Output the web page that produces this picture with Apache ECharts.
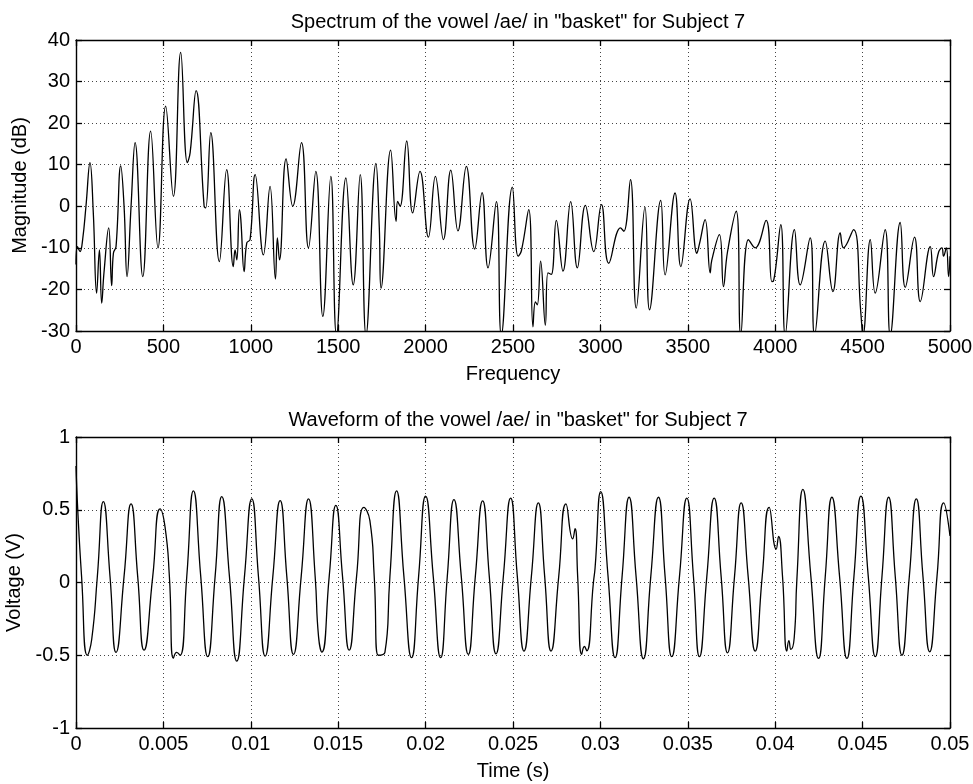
<!DOCTYPE html>
<html>
<head>
<meta charset="utf-8">
<script src="https://cdn.jsdelivr.net/npm/echarts@6/dist/echarts.min.js"></script>
<style>
html,body{margin:0;padding:0;background:#fff;}
#chart{width:973px;height:784px;}
</style>
</head>
<body>
<div id="chart"></div>
<script>
// ---- Spectrum (top panel) ----
const specTitle = 'Spectrum of the vowel /ae/ in "basket" for Subject 7';
const specFreq = [0, 8, 23, 38, 57, 80, 99, 118, 134, 147,
  160, 187, 204, 214, 229, 256, 275, 292, 315, 338,
  382, 427, 469, 513, 557, 599, 637, 653, 687, 733,
  742, 771, 820, 862, 900, 910, 920, 935, 943, 962,
  977, 996, 1025, 1072, 1110, 1141, 1152, 1164, 1202, 1240,
  1290, 1330, 1372, 1412, 1458, 1490, 1544, 1586, 1626, 1659,
  1716, 1735, 1745, 1800, 1831, 1840, 1854, 1892, 1926, 1968,
  2016, 2056, 2102, 2144, 2185, 2233, 2281, 2323, 2357, 2405,
  2433, 2496, 2529, 2548, 2590, 2614, 2628, 2639, 2658, 2685,
  2700, 2719, 2748, 2786, 2830, 2868, 2914, 2962, 3006, 3048,
  3115, 3134, 3172, 3205, 3255, 3281, 3345, 3370, 3427, 3460,
  3513, 3552, 3567, 3599, 3628, 3637, 3681, 3704, 3727, 3777,
  3803, 3847, 3885, 3948, 3981, 3990, 4032, 4057, 4110, 4143,
  4200, 4225, 4286, 4330, 4372, 4391, 4448, 4490, 4502, 4544,
  4572, 4629, 4658, 4715, 4744, 4797, 4830, 4887, 4906, 4935,
  4954, 4963, 4979, 4992, 5000];
const specDb = [-14, -9.7, -10.9, -8, 0, 10.5, -1.6, -20.9, -10.5, -23.3,
  -16, -5.2, -19.1, -11.3, -9.7, 9.7, 0, -16.9, 0, 15.3,
  -16.9, 18.1, -10, 24.1, 2.4, 37, 10.5, 12.9, 27.8, 0,
  -0.4, 17.7, -13.3, 8.8, -14.5, -10.5, -12.9, -0.8, -3.2, -15.7,
  -8.8, -8, 7.6, -11.7, 4.8, -17.5, -7.6, -12.9, 11.4, 0,
  15.3, -10, 8.4, -26.5, 7.2, -31, 6.8, -18.9, 7.6, -31,
  10.3, -5, -19.7, 13.5, -3.6, 1.2, 0, 15.7, -1.6, 8.4,
  -7.4, 7.2, -8, 8.7, -5.9, 9.6, -10.3, 3.3, -14.8, 1.1,
  -31, 4.6, -12, -10.7, -0.8, -29, -23, -23.7, -13.2, -28.6,
  -16, -16.4, -3.4, -15.6, 1.1, -14.8, 0.2, -10.9, 0.4, -13.7,
  -5.2, -6, 6.4, -24.5, -0.2, -24.9, 1.4, -16.5, 3.2, -14.5,
  1.8, -11.3, -9, -3.2, -16, -13, -6.8, -19.3, -11, -1.2,
  -31, -8, -10, -3.4, -18.1, -18, -4.4, -31, -5.6, -18.9,
  -7.6, -31, -8.4, -20.5, -6.4, -10, -5.6, -25.7, -31, -8,
  -20.9, -5.6, -31, -3.9, -19.5, -7.4, -22.9, -9.7, -16.9, -11,
  -10, -12, -10, -16.9, -12];

// ---- Waveform (bottom panel) ----
const waveTitle = 'Waveform of the vowel /ae/ in "basket" for Subject 7';
const waveTimeMs = [0, 0.1, 0.32, 0.65, 0.9, 1.22, 1.565, 1.947, 2.29, 2.748,
  3.149, 3.53, 3.893, 4.389, 4.809, 5.095, 5.343, 5.572, 5.763, 5.954,
  6.336, 6.718, 7.137, 7.538, 7.958, 8.34, 8.779, 9.198, 9.637, 10.057,
  10.439, 10.821, 11.26, 11.679, 12.061, 12.443, 12.882, 13.302, 13.683, 13.874,
  14.065, 14.485, 14.866, 15.248, 15.63, 16.05, 16.47, 16.813, 17.061, 17.29,
  17.672, 17.958, 18.34, 18.76, 19.198, 19.599, 20.0, 20.439, 20.859, 21.24,
  21.622, 22.042, 22.443, 22.844, 23.263, 23.645, 24.027, 24.447, 24.866, 25.248,
  25.63, 26.05, 26.45, 26.813, 27.176, 27.615, 28.034, 28.416, 28.55, 28.7,
  28.931, 29.084, 29.218, 29.6, 29.695, 30.019, 30.439, 30.84, 31.24, 31.641,
  32.042, 32.462, 32.882, 33.321, 33.702, 34.084, 34.523, 34.943, 35.324, 35.668,
  36.088, 36.508, 36.908, 37.271, 37.672, 38.053, 38.454, 38.855, 39.256, 39.656,
  40.057, 40.191, 40.42, 40.668, 40.782, 40.897, 41.088, 41.24, 41.584, 42.042,
  42.481, 42.863, 43.244, 43.683, 44.103, 44.504, 44.905, 45.325, 45.725, 46.107,
  46.489, 46.87, 47.252, 47.672, 48.073, 48.454, 48.836, 49.256, 49.637, 50];
const waveVolt = [0.8, 0.5, 0.04, -0.5, -0.39, 0.04, 0.556, 0.04, -0.48, 0.04,
  0.54, 0.04, -0.465, 0.04, 0.506, 0.38, 0.04, -0.52, -0.48, -0.5,
  0.04, 0.63, 0.04, -0.51, 0.04, 0.59, 0.04, -0.54, 0.04, 0.575,
  0.04, -0.506, 0.04, 0.563, 0.04, -0.494, 0.04, 0.575, 0.04, -0.37,
  -0.478, 0.04, 0.53, 0.04, -0.465, 0.04, 0.517, 0.425, 0.04, -0.5,
  -0.48, 0.04, 0.63, 0.04, -0.517, 0.04, 0.593, 0.04, -0.517, 0.04,
  0.57, 0.04, -0.494, 0.04, 0.561, 0.04, -0.49, 0.04, 0.58, 0.04,
  -0.471, 0.04, 0.547, 0.04, -0.471, 0.04, 0.54, 0.3, 0.37, 0.04,
  -0.494, -0.44, -0.47, 0.0, 0.1, 0.625, 0.04, -0.517, 0.04, 0.586,
  0.04, -0.524, 0.04, 0.586, 0.04, -0.51, 0.04, 0.58, 0.04, -0.51,
  0.04, 0.58, 0.04, -0.483, 0.04, 0.547, 0.04, -0.471, 0.04, 0.517,
  0.23, 0.317, 0.04, -0.471, -0.4, -0.46, -0.38, 0.02, 0.64, 0.04,
  -0.522, 0.04, 0.586, 0.04, -0.522, 0.04, 0.593, 0.04, -0.51, 0.04,
  0.586, 0.04, -0.5, 0.04, 0.575, 0.04, -0.476, 0.04, 0.547, 0.32];

const specXName = 'Frequency', specYName = 'Magnitude (dB)';
const waveXName = 'Time (s)', waveYName = 'Voltage (V)';

const FONT = '"Liberation Sans", Arial, Helvetica, sans-serif';
const FS = 20;
const fmt = v => String(+(+v).toFixed(6));

function mkX(grid, isTop, min, max, interval, name, nameGap) {
  return {
    type: 'value', gridIndex: grid, position: isTop ? 'top' : 'bottom',
    min, max, interval,
    name: isTop ? '' : name, nameLocation: 'middle', nameGap,
    nameTextStyle: {color: '#000', fontFamily: FONT, fontSize: FS},
    axisLine: {show: true, onZero: false, lineStyle: {color: '#000', width: 1.4}},
    axisTick: {show: true, inside: true, length: 6, lineStyle: {color: '#000', width: 1.3}},
    axisLabel: {show: !isTop, color: '#000', fontFamily: FONT, fontSize: FS, margin: 6, formatter: fmt, hideOverlap: false},
    splitLine: {show: !isTop, lineStyle: {color: '#444', type: [1, 3], width: 1}}
  };
}
function mkY(grid, isRight, min, max, interval, name, nameGap) {
  return {
    type: 'value', gridIndex: grid, position: isRight ? 'right' : 'left',
    min, max, interval,
    name: isRight ? '' : name, nameLocation: 'middle', nameGap,
    nameTextStyle: {color: '#000', fontFamily: FONT, fontSize: FS},
    axisLine: {show: true, onZero: false, lineStyle: {color: '#000', width: 1.4}},
    axisTick: {show: true, inside: true, length: 6, lineStyle: {color: '#000', width: 1.3}},
    axisLabel: {show: !isRight, color: '#000', fontFamily: FONT, fontSize: FS, margin: 6, formatter: fmt},
    splitLine: {show: !isRight, lineStyle: {color: '#444', type: [1, 3], width: 1}}
  };
}

const chart = echarts.init(document.getElementById('chart'), null, {renderer: 'canvas'});
chart.setOption({
  backgroundColor: '#fff',
  animation: false,
  title: [
    {text: specTitle, left: 513, top: 7, textAlign: 'center',
     textStyle: {fontFamily: FONT, fontSize: FS, fontWeight: 'normal', color: '#000'}},
    {text: waveTitle, left: 513, top: 405, textAlign: 'center',
     textStyle: {fontFamily: FONT, fontSize: FS, fontWeight: 'normal', color: '#000'}}
  ],
  grid: [
    {left: 76, top: 40, width: 874, height: 291, containLabel: false, outerBoundsMode: 'none'},
    {left: 76, top: 437, width: 874, height: 291, containLabel: false, outerBoundsMode: 'none'}
  ],
  xAxis: [
    mkX(0, false, 0, 5000, 500, specXName, 33),
    mkX(0, true, 0, 5000, 500, '', 0),
    mkX(1, false, 0, 0.05, 0.005, waveXName, 33),
    mkX(1, true, 0, 0.05, 0.005, '', 0)
  ],
  yAxis: [
    mkY(0, false, -30, 40, 10, specYName, 43),
    mkY(0, true, -30, 40, 10, '', 0),
    mkY(1, false, -1, 1, 0.5, waveYName, 47),
    mkY(1, true, -1, 1, 0.5, '', 0)
  ],
  series: [
    {type: 'line', xAxisIndex: 0, yAxisIndex: 0, showSymbol: false, symbol: 'none',
     smooth: 0.45, clip: true,
     lineStyle: {color: '#000', width: 1.3},
     data: specFreq.map((f, i) => [f, specDb[i]])},
    {type: 'line', xAxisIndex: 2, yAxisIndex: 2, showSymbol: false, symbol: 'none',
     smooth: 0.55, clip: true,
     lineStyle: {color: '#000', width: 1.3},
     data: waveTimeMs.map((t, i) => [t / 1000, waveVolt[i]])}
  ]
});
</script>
</body>
</html>
